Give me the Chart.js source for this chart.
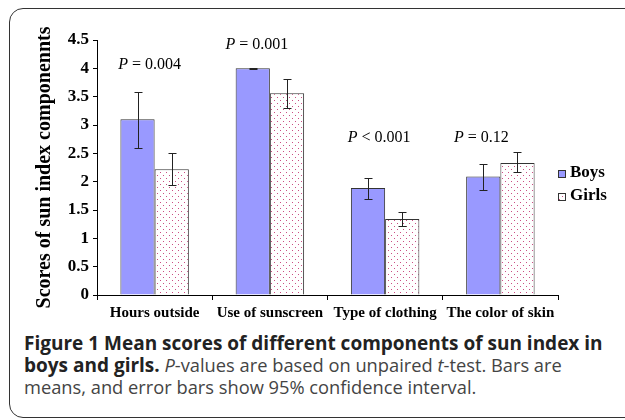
<!DOCTYPE html>
<html>
<head>
<meta charset="utf-8">
<script src="https://cdn.jsdelivr.net/npm/chart.js@4.4.1/dist/chart.umd.min.js"></script>
<style>
  html, body { margin: 0; padding: 0; background: #fff; }
  body { width: 625px; height: 420px; position: relative; overflow: hidden; }
  #frame { position: absolute; left: 9px; top: 8px; width: 700px; height: 408px; border: 1.5px solid #333; border-radius: 14px; }
  #wrap { position: absolute; left: 0; top: 0; width: 625px; height: 330px; }
  #caption { position: absolute; left: 24px; top: 332px; font-family: 'Open Sans', sans-serif; font-size: 18.3px; line-height: 22px; color: #444; white-space: nowrap; }
  #caption b { color: #222; font-size: 19px; }
</style>
</head>
<body>
<div id="frame"></div>
<div id="wrap"><canvas id="sunChart"></canvas></div>
<div id="caption">
  <b>Figure 1 Mean scores of different components of sun index in</b><br>
  <b>boys and girls.</b> <i>P</i>-values are based on unpaired <i>t</i>-test. Bars are<br>
  means, and error bars show 95% confidence interval.
</div>
<script>
// values
const categories = ['Hours outside', 'Use of sunscreen', 'Type of clothing', 'The color of skin'];
const boysMean  = [3.10, 4.00, 1.89, 2.09];
const boysLow   = [2.60, 3.99, 1.70, 1.85];
const boysHigh  = [3.59, 4.01, 2.07, 2.31];
const girlsMean = [2.22, 3.56, 1.34, 2.33];
const girlsLow  = [1.95, 3.30, 1.21, 2.17];
const girlsHigh = [2.51, 3.82, 1.47, 2.52];
const pValueText = ['= 0.004', '= 0.001', '< 0.001', '= 0.12'];
const yMin = 0, yMax = 4.5, yStep = 0.5;

const serif = "'Liberation Serif', 'Times New Roman', serif";

// dotted fill for the girls bars
function dotPattern() {
    const c = document.createElement('canvas');
    c.width = 6; c.height = 6;
    const g = c.getContext('2d');
    g.fillStyle = '#fff';
    g.fillRect(0, 0, 6, 6);
    g.fillStyle = '#cc4f84';
    g.fillRect(1, 1, 1, 1);
    g.fillRect(4, 4, 1, 1);
    return g.createPattern(c, 'repeat');
}

const errorBars = {
    id: 'errorBars',
    afterDatasetsDraw(chart, args, opts) {
        const ctx = chart.ctx, y = chart.scales.y;
        ctx.save();
        ctx.strokeStyle = opts.color;
        ctx.lineWidth = 1;
        chart.data.datasets.forEach((ds, i) => {
            chart.getDatasetMeta(i).data.forEach((bar, j) => {
                const lo = Math.round(y.getPixelForValue(ds.errLow[j])) + 0.5;
                const hi = Math.round(y.getPixelForValue(ds.errHigh[j])) + 0.5;
                const x = Math.round(bar.x) + 0.5;
                ctx.beginPath();
                ctx.moveTo(x, lo); ctx.lineTo(x, hi);
                ctx.moveTo(x - 4, lo); ctx.lineTo(x + 4, lo);
                ctx.moveTo(x - 4, hi); ctx.lineTo(x + 4, hi);
                ctx.stroke();
            });
        });
        ctx.restore();
    }
};

const pLabels = {
    id: 'pLabels',
    afterDraw(chart, args, opts) {
        const ctx = chart.ctx, x = chart.scales.x, y = chart.scales.y;
        ctx.save();
        ctx.fillStyle = '#000';
        ctx.textBaseline = 'middle';
        pValueText.forEach((txt, i) => {
            const px = x.getPixelForValue(i) + opts.dx[i];
            const py = y.getPixelForValue(opts.at[i]);
            ctx.font = 'italic 16px ' + serif;
            const wP = ctx.measureText('P ').width;
            ctx.font = '16px ' + serif;
            const wRest = ctx.measureText(txt).width;
            let left = px - (wP + wRest) / 2;
            ctx.font = 'italic 16px ' + serif;
            ctx.fillText('P ', left, py);
            ctx.font = '16px ' + serif;
            ctx.fillText(txt, left + wP, py);
        });
        ctx.restore();
    }
};

const sideLegend = {
    id: 'sideLegend',
    afterDraw(chart, args, opts) {
        const ctx = chart.ctx;
        ctx.save();
        ctx.font = 'bold 17px ' + serif;
        ctx.textBaseline = 'middle';
        chart.data.datasets.forEach((ds, i) => {
            const cy = opts.top + i * opts.spacing;
            ctx.fillStyle = ds.backgroundColor;
            ctx.fillRect(opts.left, cy - 4, 8, 8);
            ctx.strokeStyle = ds.borderColor;
            ctx.lineWidth = 1;
            ctx.strokeRect(opts.left + 0.5, cy - 3.5, 7, 7);
            ctx.fillStyle = '#000';
            ctx.fillText(ds.label, opts.left + 12, cy - 1);
        });
        ctx.restore();
    }
};

new Chart(document.getElementById('sunChart'), {
    type: 'bar',
    data: {
        labels: categories,
        datasets: [{
            label: 'Boys',
            data: boysMean,
            errLow: boysLow,
            errHigh: boysHigh,
            backgroundColor: '#9999ff',
            borderColor: '#333',
            borderWidth: 1
        }, {
            label: 'Girls',
            data: girlsMean,
            errLow: girlsLow,
            errHigh: girlsHigh,
            backgroundColor: dotPattern(),
            borderColor: '#333',
            borderWidth: 1
        }]
    },
    options: {
        responsive: true,
        maintainAspectRatio: false,
        animation: false,
        categoryPercentage: 0.594,
        barPercentage: 1,
        layout: { padding: { left: 20, right: 67, top: 40, bottom: 5 } },
        plugins: {
            legend: { display: false },
            tooltip: { enabled: false },
            errorBars: { color: '#222' },
            pLabels: { at: [4.07, 4.42, 2.77, 2.77], dx: [-5, -13, -6, -19] },
            sideLegend: { left: 558, top: 174, spacing: 23 }
        },
        scales: {
            x: {
                afterFit: (s) => { s.height = 30; },
                grid: { offset: true, drawOnChartArea: false, tickLength: 5, color: '#000' },
                border: { display: true, color: '#000' },
                ticks: { color: '#000', padding: 4, font: { family: serif, size: 15, weight: 'bold' } }
            },
            y: {
                min: yMin,
                max: yMax,
                afterFit: (s) => { s.width = 77; },
                grid: { drawOnChartArea: false, tickLength: 4, color: '#000' },
                border: { display: true, color: '#000' },
                ticks: {
                    stepSize: yStep,
                    color: '#000',
                    padding: 4,
                    font: { family: serif, size: 17, weight: 'bold' },
                    callback: (v) => String(+v)
                },
                title: {
                    display: true,
                    text: 'Scores of sun index componennts',
                    color: '#000',
                    padding: { top: 13, bottom: 0 },
                    font: { family: serif, size: 20, weight: 'bold' }
                }
            }
        }
    },
    plugins: [errorBars, pLabels, sideLegend]
});
</script>
</body>
</html>
